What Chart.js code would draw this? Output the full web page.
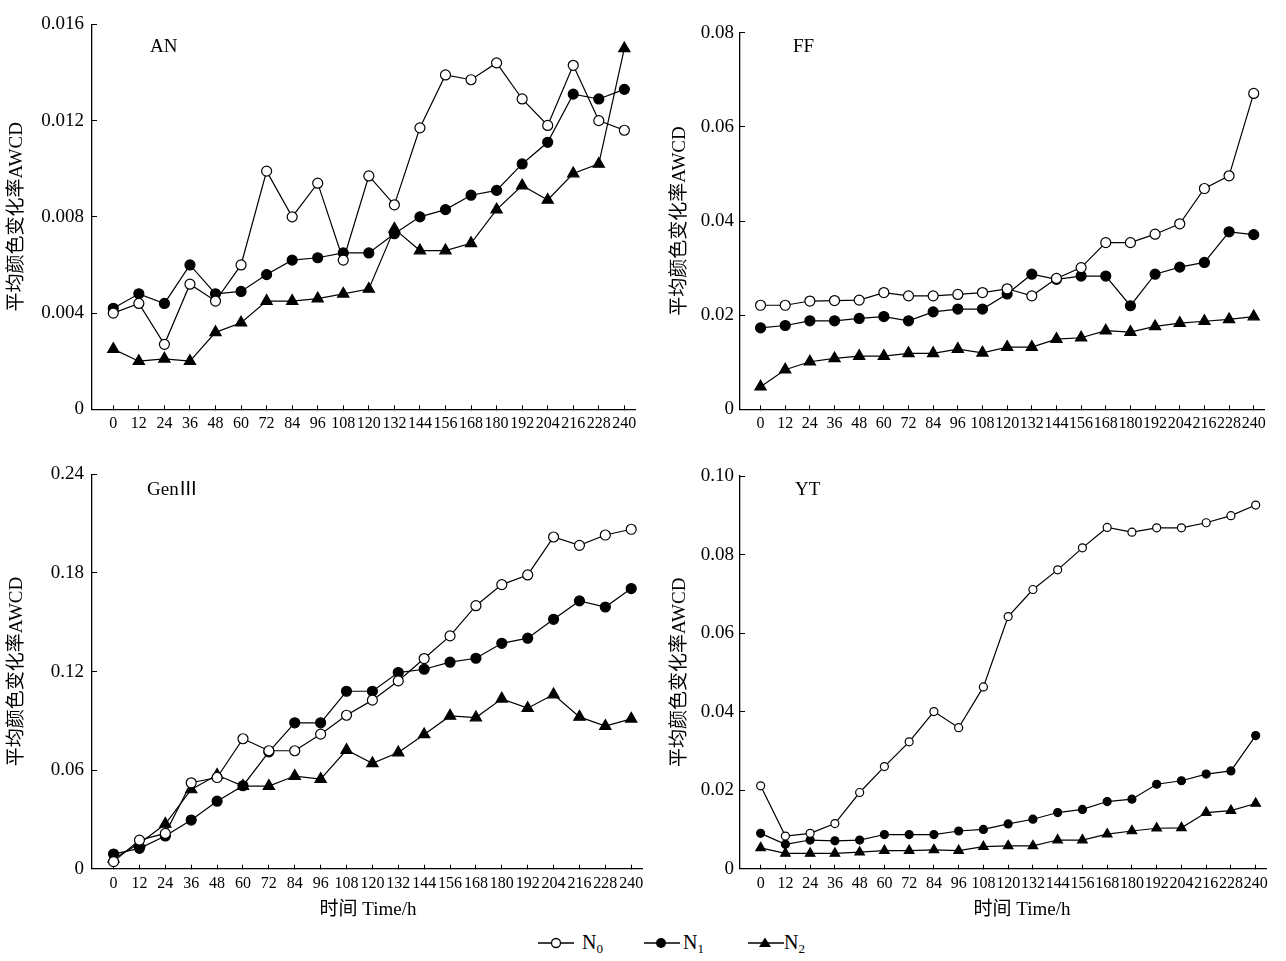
<!DOCTYPE html>
<html><head><meta charset="utf-8">
<script src="https://cdn.jsdelivr.net/npm/chart.js@4.4.0/dist/chart.umd.min.js"></script>
<style>
html,body{margin:0;padding:0;background:#fff;width:1286px;height:961px;overflow:hidden;position:relative;}
canvas{position:absolute;}
.t{position:absolute;font-family:'Liberation Serif','Noto Sans CJK SC',serif;color:#000;white-space:nowrap;line-height:1;}
.ctr{transform:translateX(-50%);}
.sub{font-size:13px;position:relative;top:4px;}
svg{position:absolute;}
</style></head><body>
<canvas id="cAN" width="655" height="440" style="left:0;top:0"></canvas>
<canvas id="cFF" width="629" height="440" style="left:655px;top:0"></canvas>
<canvas id="cGen" width="662" height="470" style="left:0;top:450px"></canvas>
<canvas id="cYT" width="631" height="470" style="left:655px;top:450px"></canvas>

<div class="t" style="left:150px;top:36px;font-size:19px">AN</div>
<div class="t" style="left:793px;top:36px;font-size:19px">FF</div>
<div class="t" style="left:147px;top:479px;font-size:19px">GenⅢ</div>
<div class="t" style="left:795px;top:479px;font-size:19px">YT</div>

<div class="t ctr" style="left:368px;top:899px;font-size:19px">时间 Time/h</div>
<div class="t ctr" style="left:1022px;top:899px;font-size:19px">时间 Time/h</div>

<svg width="36" height="14" style="left:538px;top:936px"><line x1="0" y1="7" x2="36" y2="7" stroke="#000" stroke-width="1.3"/><circle cx="18" cy="7" r="4.5" fill="#fff" stroke="#000" stroke-width="1.3"/></svg>
<div class="t" style="left:582px;top:932px;font-size:20px">N<span class="sub">0</span></div>
<svg width="36" height="14" style="left:644px;top:936px"><line x1="0" y1="7" x2="36" y2="7" stroke="#000" stroke-width="1.3"/><circle cx="17" cy="7" r="5" fill="#000"/></svg>
<div class="t" style="left:683px;top:932px;font-size:20px">N<span class="sub">1</span></div>
<svg width="36" height="14" style="left:748px;top:936px"><line x1="0" y1="7" x2="36" y2="7" stroke="#000" stroke-width="1.3"/><polygon points="17,1.5 23,11 11,11" fill="#000"/></svg>
<div class="t" style="left:784px;top:932px;font-size:20px">N<span class="sub">2</span></div>

<script>
// ---- data ----
const hours = [0,12,24,36,48,60,72,84,96,108,120,132,144,156,168,180,192,204,216,228,240];
const seriesNames = ['N0','N1','N2'];

const AN_N0 = [0.0040,0.0044,0.0027,0.0052,0.0045,0.0060,0.0099,0.0080,0.0094,0.0062,0.0097,0.0085,0.0117,0.0139,0.0137,0.0144,0.0129,0.0118,0.0143,0.0120,0.0116];
const AN_N1 = [0.0042,0.0048,0.0044,0.0060,0.0048,0.0049,0.0056,0.0062,0.0063,0.0065,0.0065,0.0073,0.0080,0.0083,0.0089,0.0091,0.0102,0.0111,0.0131,0.0129,0.0133];
const AN_N2 = [0.0025,0.0020,0.0021,0.0020,0.0032,0.0036,0.0045,0.0045,0.0046,0.0048,0.0050,0.0075,0.0066,0.0066,0.0069,0.0083,0.0093,0.0087,0.0098,0.0102,0.0150];

const FF_N0 = [0.0221,0.0221,0.0230,0.0231,0.0232,0.0248,0.0241,0.0241,0.0244,0.0248,0.0256,0.0241,0.0278,0.0301,0.0354,0.0354,0.0372,0.0394,0.0469,0.0496,0.0671];
const FF_N1 = [0.0173,0.0178,0.0188,0.0188,0.0193,0.0197,0.0188,0.0207,0.0213,0.0213,0.0245,0.0287,0.0276,0.0283,0.0283,0.0220,0.0287,0.0302,0.0312,0.0377,0.0371];
const FF_N2 = [0.0048,0.0084,0.0101,0.0108,0.0113,0.0113,0.0119,0.0119,0.0128,0.0120,0.0132,0.0132,0.0149,0.0152,0.0167,0.0164,0.0176,0.0183,0.0187,0.0191,0.0197];

const GEN_N0 = [0.0043,0.0174,0.0215,0.0523,0.0555,0.0791,0.0718,0.0718,0.0819,0.0934,0.1026,0.1143,0.1279,0.1417,0.1601,0.1729,0.1788,0.2019,0.1968,0.2031,0.2066];
const GEN_N1 = [0.0089,0.0124,0.0199,0.0296,0.0411,0.0505,0.0711,0.0888,0.0888,0.1080,0.1080,0.1194,0.1214,0.1257,0.1281,0.1372,0.1403,0.1518,0.1630,0.1593,0.1705];
const GEN_N2 = [0.0060,0.0154,0.0272,0.0482,0.0570,0.0503,0.0503,0.0564,0.0545,0.0722,0.0641,0.0707,0.0817,0.0930,0.0920,0.1034,0.0977,0.1060,0.0924,0.0868,0.0912];

const YT_N0 = [0.0211,0.0083,0.0090,0.0115,0.0194,0.0260,0.0323,0.0400,0.0359,0.0463,0.0642,0.0711,0.0761,0.0817,0.0869,0.0857,0.0868,0.0868,0.0881,0.0899,0.0926];
const YT_N1 = [0.0090,0.0062,0.0073,0.0071,0.0073,0.0087,0.0087,0.0087,0.0096,0.0100,0.0114,0.0126,0.0143,0.0151,0.0171,0.0177,0.0215,0.0224,0.0241,0.0249,0.0339];
const YT_N2 = [0.0053,0.0039,0.0039,0.0039,0.0042,0.0046,0.0046,0.0048,0.0046,0.0056,0.0058,0.0058,0.0073,0.0073,0.0088,0.0096,0.0103,0.0104,0.0143,0.0148,0.0166];

const AN_yTicks = [0,0.004,0.008,0.012,0.016];
const AN_yLabels = ['0','0.004','0.008','0.012','0.016'];
const FF_yTicks = [0,0.02,0.04,0.06,0.08];
const FF_yLabels = ['0','0.02','0.04','0.06','0.08'];
const GEN_yTicks = [0,0.06,0.12,0.18,0.24];
const GEN_yLabels = ['0','0.06','0.12','0.18','0.24'];
const YT_yTicks = [0,0.02,0.04,0.06,0.08,0.10];
const YT_yLabels = ['0','0.02','0.04','0.06','0.08','0.10'];
const xTickLabels = hours.map(String);

const yTitle = '平均颜色变化率AWCD';
const serif = "'Liberation Serif','Noto Sans CJK SC',serif";

function pts(vals){ return hours.map((h,i)=>({x:h, y:vals[i]})); }

function makeChart(id, s) {
  const ds = (vals, name, style, fill, r) => ({
    label: name, data: pts(vals), borderColor:'#000', borderWidth:1.2,
    pointStyle: style, pointRadius: r, pointBackgroundColor: fill,
    pointBorderColor:'#000', pointBorderWidth:1.2, tension:0, fill:false
  });
  new Chart(document.getElementById(id), {
    type:'line',
    data:{ datasets:[
      ds(s.n0, seriesNames[0], 'circle', '#fff', s.r),
      ds(s.n1, seriesNames[1], 'circle', '#000', s.r),
      ds(s.n2, seriesNames[2], 'triangle', '#000', s.tr)
    ]},
    options:{
      responsive:false, animation:false, events:[],
      layout:{padding:{left:0, top:s.padTop, right:s.padRight, bottom:0}},
      plugins:{legend:{display:false}, tooltip:{enabled:false}},
      scales:{
        x:{ type:'linear', min:-10, max:245,
          afterBuildTicks: sc => { sc.ticks = hours.map(v=>({value:v})); },
          afterFit: sc => { sc.height = s.xH; },
          grid:{display:true, drawOnChartArea:false, drawTicks:true, tickLength:-4, color:'#000', lineWidth:1},
          border:{display:true, color:'#000', width:1.3},
          ticks:{autoSkip:false, maxRotation:0, minRotation:0, padding:9, color:'#000',
            font:{family:serif, size:16},
            callback:(v)=>{ const i = hours.indexOf(v); return i>=0 ? xTickLabels[i] : ''; }}
        },
        y:{ type:'linear', min:0, max:s.yTicks[s.yTicks.length-1],
          afterBuildTicks: sc => { sc.ticks = s.yTicks.map(v=>({value:v})); },
          afterFit: sc => { sc.width = s.yW; },
          grid:{display:true, drawOnChartArea:false, drawTicks:true, tickLength:-5, color:'#000', lineWidth:1},
          border:{display:true, color:'#000', width:1.3},
          ticks:{padding:s.yPad, color:'#000', font:{family:serif, size:19},
            callback:(v)=>{ const i = s.yTicks.findIndex(t=>Math.abs(t-v)<1e-9); return i>=0 ? s.yLabels[i] : ''; }},
          title:{display:true, text:yTitle, color:'#000', font:{family:serif, size:19}, padding:{top:s.tPad, bottom:0}}
        }
      }
    }
  });
}

makeChart('cAN', {n0:AN_N0, n1:AN_N1, n2:AN_N2, yTicks:AN_yTicks, yLabels:AN_yLabels,
  padTop:17.5, padRight:20, xH:30.7, yW:92, yPad:13, tPad:5.6, r:5, tr:6.5});
makeChart('cFF', {n0:FF_N0, n1:FF_N1, n2:FF_N2, yTicks:FF_yTicks, yLabels:FF_yLabels,
  padTop:32.7, padRight:20, xH:30.7, yW:85, yPad:11, tPad:14.1, r:5, tr:6.5});
makeChart('cGen', {n0:GEN_N0, n1:GEN_N1, n2:GEN_N2, yTicks:GEN_yTicks, yLabels:GEN_yLabels,
  padTop:24, padRight:20, xH:51.3, yW:92, yPad:13, tPad:5.6, r:5, tr:6.5});
makeChart('cYT', {n0:YT_N0, n1:YT_N1, n2:YT_N2, yTicks:YT_yTicks, yLabels:YT_yLabels,
  padTop:26, padRight:20, xH:51.3, yW:85, yPad:11, tPad:14.1, r:4, tr:5.5});
</script>
</body></html>
